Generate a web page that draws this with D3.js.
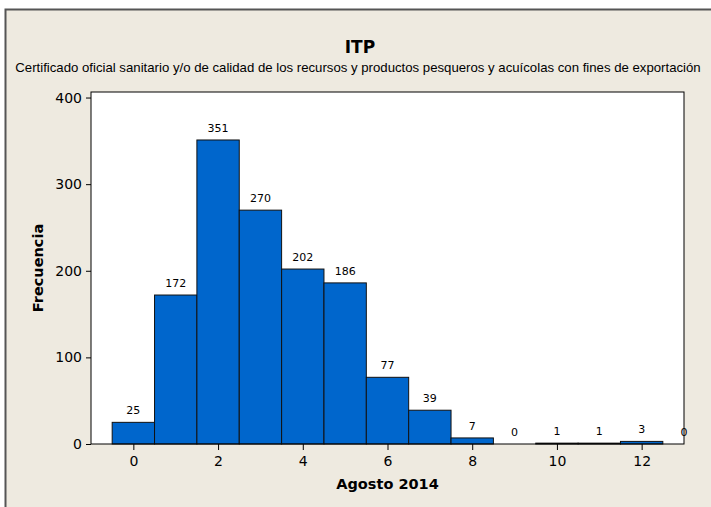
<!DOCTYPE html>
<html>
<head>
<meta charset="utf-8">
<script src="https://cdn.jsdelivr.net/npm/d3@7"></script>
<style>
  body { margin: 0; background: #fff; }
  text { font-family: "DejaVu Sans", Tahoma, sans-serif; fill: #000; }
</style>
</head>
<body>
<div id="chart"></div>
<script>
// data
let bins = [0, 1, 2, 3, 4, 5, 6, 7, 8, 9, 10, 11, 12, 13]
let counts = [25, 172, 351, 270, 202, 186, 77, 39, 7, 0, 1, 1, 3, 0]
let xTicks = [0, 2, 4, 6, 8, 10, 12]
let yTicks = [0, 100, 200, 300, 400]

let titleText = 'ITP'
let subtitleText = 'Certificado oficial sanitario y/o de calidad de los recursos y productos pesqueros y acuícolas con fines de exportación'
let xLabel = 'Agosto 2014'
let yLabel = 'Frecuencia'

let W = 711
let H = 507
let plot = { left: 91, top: 92, right: 684, bottom: 444 }

let svg = d3.select('#chart')
  .append('svg')
  .attr('width', W)
  .attr('height', H)

// outer frame
svg.append('rect')
  .attr('x', 5.5)
  .attr('y', 9.5)
  .attr('width', W + 20)
  .attr('height', H + 20)
  .attr('fill', '#EEEAE0')
  .attr('stroke', '#555')
  .attr('stroke-width', 2)

// scales
let x = d3.scaleLinear().domain([-1, 13]).range([plot.left, plot.right])
let y = d3.scaleLinear().domain([0, 406.4]).range([plot.bottom, plot.top])

// plot area
svg.append('rect')
  .attr('x', plot.left)
  .attr('y', plot.top)
  .attr('width', plot.right - plot.left)
  .attr('height', plot.bottom - plot.top)
  .attr('fill', '#fff')

// bars
let data = bins.map((b, i) => ({ bin: b, count: counts[i] }))

svg.append('g')
  .selectAll('rect')
  .data(data.filter(d => d.count > 0))
  .enter()
  .append('rect')
  .attr('x', d => x(d.bin - 0.5))
  .attr('y', d => y(d.count))
  .attr('width', d => x(d.bin + 0.5) - x(d.bin - 0.5))
  .attr('height', d => y(0) - y(d.count))
  .attr('fill', '#0066CC')
  .attr('stroke', '#111')
  .attr('stroke-width', 1)

// value labels
svg.append('g')
  .selectAll('text')
  .data(data)
  .enter()
  .append('text')
  .attr('x', d => x(d.bin))
  .attr('y', d => y(d.count) - 8)
  .attr('text-anchor', 'middle')
  .attr('font-size', 11)
  .text(d => d.count)

// frame of the plot
svg.append('rect')
  .attr('x', plot.left)
  .attr('y', plot.top)
  .attr('width', plot.right - plot.left)
  .attr('height', plot.bottom - plot.top)
  .attr('fill', 'none')
  .attr('stroke', '#000')
  .attr('stroke-width', 1)

// axes
let xAxis = d3.axisBottom(x).tickValues(xTicks).tickSize(6).tickPadding(6)
svg.append('g')
  .attr('class', 'axis x-axis')
  .attr('transform', `translate(0,${plot.bottom})`)
  .call(xAxis)

let yAxis = d3.axisLeft(y).tickValues(yTicks).tickSize(5).tickPadding(4)
svg.append('g')
  .attr('class', 'axis y-axis')
  .attr('transform', `translate(${plot.left},0)`)
  .call(yAxis)

svg.selectAll('.domain').remove()
svg.selectAll('.axis text')
  .attr('font-size', 14)
  .attr('font-family', '"DejaVu Sans", Tahoma, sans-serif')
  .attr('fill', '#000')
svg.selectAll('.axis line').attr('stroke', '#000')

// titles
svg.append('text')
  .attr('x', 360)
  .attr('y', 53)
  .attr('text-anchor', 'middle')
  .attr('font-size', 17)
  .attr('font-weight', 'bold')
  .text(titleText)

// subtitle: narrower face so it fits the width naturally
svg.append('text')
  .attr('x', 358)
  .attr('y', 72)
  .attr('text-anchor', 'middle')
  .style('font-family', '"Liberation Sans", Arial, sans-serif')
  .attr('font-size', 13.2)
  .text(subtitleText)

svg.append('text')
  .attr('x', (plot.left + plot.right) / 2)
  .attr('y', 489)
  .attr('text-anchor', 'middle')
  .attr('font-size', 14.5)
  .attr('font-weight', 'bold')
  .text(xLabel)

svg.append('text')
  .attr('transform', `translate(43,${(plot.top + plot.bottom) / 2}) rotate(-90)`)
  .attr('text-anchor', 'middle')
  .attr('font-size', 14.5)
  .attr('font-weight', 'bold')
  .text(yLabel)
</script>
</body>
</html>
